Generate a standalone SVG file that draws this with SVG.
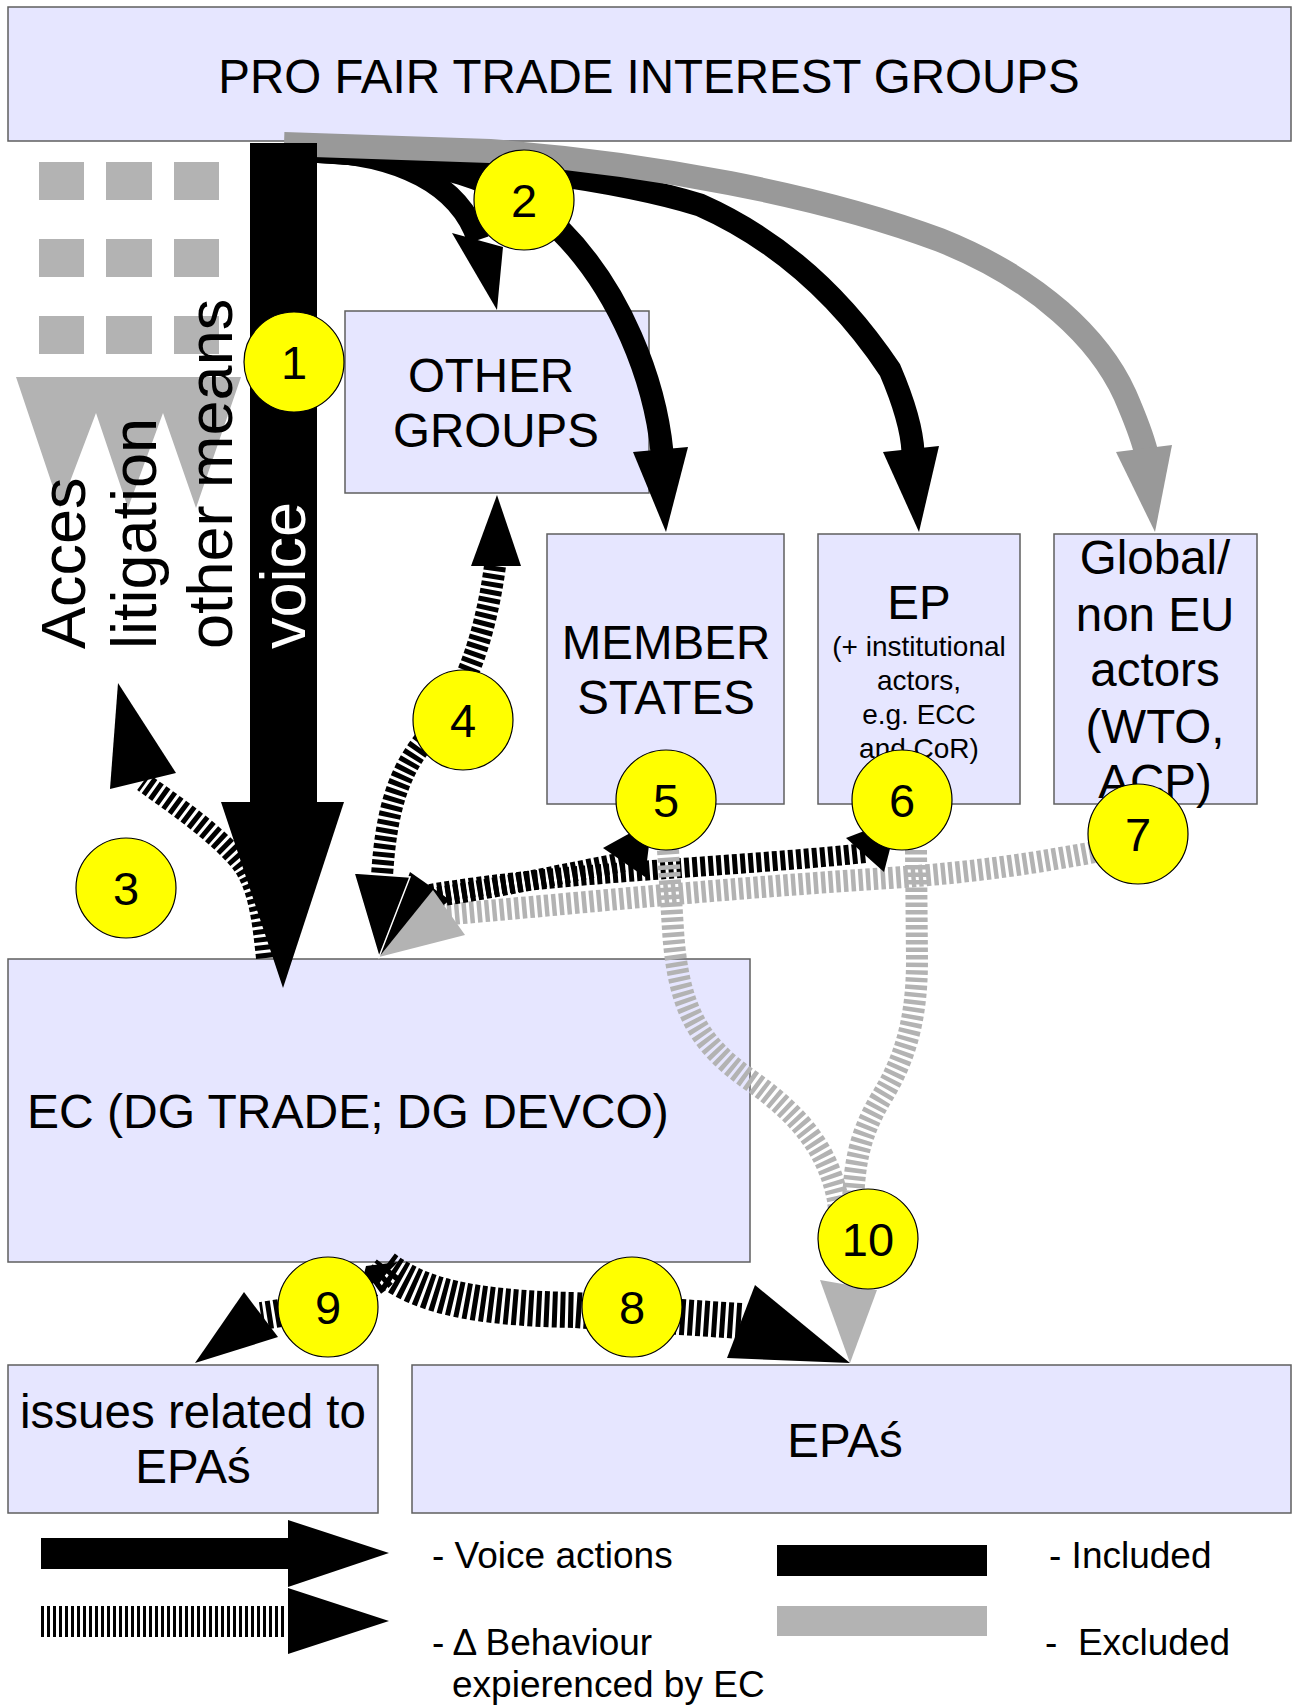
<svg xmlns="http://www.w3.org/2000/svg" width="1294" height="1705" viewBox="0 0 1294 1705">
<style>
.box{fill:#e6e6ff;stroke:#5f5f5f;stroke-width:1.5}
.t{font-family:"Liberation Sans",Arial,sans-serif;fill:#000}
.big{font-size:47.5px}
.sm{font-size:28px}
.leg{font-size:37px}
.rot{font-size:63px}
.num{font-family:"Liberation Sans",Arial,sans-serif;font-size:47px;text-anchor:middle}
.circ{fill:#ffff00;stroke:#000;stroke-width:1.2}
.sq{fill:#b3b3b3}
.blk{fill:none;stroke:#000}
.gry{fill:none;stroke:#999999}
.sb{fill:none;stroke:#000;stroke-dasharray:5 3}
.sg{fill:none;stroke:#b3b3b3;stroke-dasharray:4.5 3}
.hb{fill:#000}
.hg{fill:#999999}
.hl{fill:#b3b3b3}
</style>

<!-- nodes -->
<g id="pro-fair-trade">
  <rect class="box" x="8" y="7" width="1283" height="134"/>
  <text class="t big" x="649" y="93" text-anchor="middle">PRO FAIR TRADE INTEREST GROUPS</text>
</g>
<g id="other-groups">
  <rect class="box" x="345" y="311" width="304" height="182"/>
  <text class="t big" x="491" y="392" text-anchor="middle">OTHER</text>
  <text class="t big" x="496" y="447" text-anchor="middle">GROUPS</text>
</g>
<g id="member-states">
  <rect class="box" x="547" y="534" width="237" height="270"/>
  <text class="t big" x="666" y="659" text-anchor="middle">MEMBER</text>
  <text class="t big" x="666" y="714" text-anchor="middle">STATES</text>
</g>
<g id="ep">
  <rect class="box" x="818" y="534" width="202" height="270"/>
  <text class="t big" x="919" y="619" text-anchor="middle">EP</text>
  <text class="t sm" x="919" y="656" text-anchor="middle">(+ institutional</text>
  <text class="t sm" x="919" y="690" text-anchor="middle">actors,</text>
  <text class="t sm" x="919" y="724" text-anchor="middle">e.g. ECC</text>
  <text class="t sm" x="919" y="758" text-anchor="middle">and CoR)</text>
</g>
<g id="global">
  <rect class="box" x="1054" y="534" width="203" height="270"/>
  <text class="t big" x="1155" y="574" text-anchor="middle">Global/</text>
  <text class="t big" x="1155" y="631" text-anchor="middle">non EU</text>
  <text class="t big" x="1155" y="686" text-anchor="middle">actors</text>
  <text class="t big" x="1155" y="743" text-anchor="middle">(WTO,</text>
  <text class="t big" x="1155" y="798" text-anchor="middle">ACP)</text>
</g>
<g id="ec">
  <rect class="box" x="8" y="959" width="742" height="303"/>
  <text class="t" style="font-size:48px" x="27" y="1128">EC (DG TRADE; DG DEVCO)</text>
</g>
<g id="issues">
  <rect class="box" x="8" y="1365" width="370" height="148"/>
  <text class="t big" x="193" y="1428" text-anchor="middle">issues related to</text>
  <text class="t big" x="193" y="1483" text-anchor="middle">EPAś</text>
</g>
<g id="epas">
  <rect class="box" x="412" y="1365" width="879" height="148"/>
  <text class="t big" x="845" y="1457" text-anchor="middle">EPAś</text>
</g>

<!-- other means of access (squares and triangles) -->
<g id="other-means">
  <rect class="sq" x="39" y="162" width="45" height="38"/>
  <rect class="sq" x="106" y="162" width="46" height="38"/>
  <rect class="sq" x="174" y="162" width="45" height="38"/>
  <rect class="sq" x="39" y="239" width="45" height="38"/>
  <rect class="sq" x="106" y="239" width="46" height="38"/>
  <rect class="sq" x="174" y="239" width="45" height="38"/>
  <rect class="sq" x="39" y="316" width="45" height="38"/>
  <rect class="sq" x="106" y="316" width="46" height="38"/>
  <rect class="sq" x="174" y="316" width="45" height="38"/>
  <polygon class="sq" points="16,377 241,377 196,508 163,413 128,508 96,413 60,508"/>
  <text class="t rot" transform="translate(85,649) rotate(-90)">Acces</text>
  <text class="t rot" transform="translate(156,649) rotate(-90)">litigation</text>
  <text class="t rot" transform="translate(232,649) rotate(-90)">other means</text>
</g>

<!-- connectors -->
<g id="connectors">
  <!-- voice actions from pro fair trade groups -->
  <path class="blk" stroke-width="22" d="M310,151 C400,153 460,185 478,240"/>
  <path class="blk" stroke-width="23" d="M310,151 C430,156 510,180 560,230 C620,290 655,380 662,452"/>
  <path class="blk" stroke-width="23" d="M310,151 C480,161 620,180 700,205 C790,245 850,310 890,370 C905,405 912,430 913,452"/>
  <polygon class="hb" points="452,233 503,247 497,310"/>
  <polygon class="hb" points="633,452 688,447 666,532"/>
  <polygon class="hb" points="883,452 939,446 919,532"/>
  <path class="gry" stroke-width="24" d="M284,144 L490,151 C650,163 820,195 940,240 C1040,280 1100,340 1125,395 C1138,425 1143,440 1146,452"/>
  <polygon class="hg" points="1116,452 1172,445 1155,532"/>

  <!-- 3 -->
  <path class="sb" stroke-width="20" d="M266,958 C262,920 258,885 240,862 C215,832 175,805 143,782"/>
  <polygon class="hb" points="118,683 176,773 110,789"/>

  <!-- voice -->
  <rect x="250" y="143" width="67" height="660" fill="#000"/>
  <polygon class="hb" points="221,802 344,802 283,988"/>
  <text class="t rot" style="fill:#fff" transform="translate(305,649) rotate(-90)">voice</text>

  <!-- 4 -->
  <path class="sb" stroke-width="22" d="M495,566 C485,640 462,700 432,732 C398,768 386,812 382,876"/>
  <polygon class="hb" points="497,495 521,566 471,566"/>

  <!-- 5, 6, 7 -->
  <path class="sg" stroke-width="22" d="M440,915 C560,905 700,890 890,878 C980,872 1040,862 1095,852"/>
  <path class="sb" stroke-width="20" stroke-dasharray="4 3.5" d="M430,898 C500,888 570,872 624,862"/>
  <path class="sb" stroke-width="20" stroke-dasharray="4 3.5" d="M430,894 C560,872 720,868 866,853"/>
  <polygon class="hb" points="603,848 652,821 645,877"/>
  <polygon class="hb" points="846,838 898,818 884,872"/>
  <polygon class="hb" points="379,957 410,872 450,900"/>
  <polygon class="hl" points="379,957 433,890 465,935"/>
  <polygon class="hb" stroke="#fff" stroke-width="1.5" points="354,873 410,877 379,957"/>

  <!-- 10 -->
  <path class="sg" stroke-width="22" stroke-dasharray="4.5 3.5" d="M668,850 L673,930 C678,1010 700,1045 750,1080 C800,1115 828,1150 838,1200 L842,1240"/>
  <path class="sg" stroke-width="22" stroke-dasharray="4.5 3.5" d="M916,850 L917,960 C917,1020 905,1060 880,1100 C860,1135 855,1160 853,1200 L852,1240"/>

  <!-- 8, 9 -->
  <path class="sb" stroke-width="36" stroke-dasharray="4 2.5" d="M384,1268 C420,1295 470,1308 574,1310 L741,1321"/>
  <path class="sb" stroke-width="28" stroke-dasharray="4 2.5" d="M388,1268 C370,1292 330,1306 261,1316"/>
  <polygon class="hb" points="398,1262 366,1266 360,1290 380,1280"/>
  <polygon class="hb" points="755,1285 850,1363 727,1358"/>
  <polygon class="hl" points="820,1280 877,1290 850,1363"/>
  <polygon class="hb" points="244,1292 278,1337 195,1363"/>
</g>

<!-- number labels -->
<g id="labels">
  <g id="n1"><circle class="circ" cx="294" cy="362" r="50"/><text class="num" x="294" y="379">1</text></g>
  <g id="n2"><circle class="circ" cx="524" cy="200" r="50"/><text class="num" x="524" y="217">2</text></g>
  <g id="n3"><circle class="circ" cx="126" cy="888" r="50"/><text class="num" x="126" y="905">3</text></g>
  <g id="n4"><circle class="circ" cx="463" cy="720" r="50"/><text class="num" x="463" y="737">4</text></g>
  <g id="n5"><circle class="circ" cx="666" cy="800" r="50"/><text class="num" x="666" y="817">5</text></g>
  <g id="n6"><circle class="circ" cx="902" cy="800" r="50"/><text class="num" x="902" y="817">6</text></g>
  <g id="n7"><circle class="circ" cx="1138" cy="834" r="50"/><text class="num" x="1138" y="851">7</text></g>
  <g id="n8"><circle class="circ" cx="632" cy="1307" r="50"/><text class="num" x="632" y="1324">8</text></g>
  <g id="n9"><circle class="circ" cx="328" cy="1307" r="50"/><text class="num" x="328" y="1324">9</text></g>
  <g id="n10"><circle class="circ" cx="868" cy="1239" r="50"/><text class="num" x="868" y="1256">10</text></g>
</g>

<!-- legend -->
<g id="legend">
  <rect x="41" y="1538" width="248" height="31" fill="#000"/>
  <polygon class="hb" points="288,1520 389,1553 288,1587"/>
  <line x1="41" y1="1621.5" x2="286" y2="1621.5" stroke="#000" stroke-width="31" stroke-dasharray="3 3"/>
  <polygon class="hb" points="288,1588 389,1621 288,1654"/>
  <text class="t leg" x="432" y="1568">- Voice actions</text>
  <text class="t leg" x="432" y="1655">- Δ Behaviour</text>
  <text class="t leg" x="452" y="1697">expierenced by EC</text>
  <rect x="777" y="1545" width="210" height="31" fill="#000"/>
  <rect x="777" y="1606" width="210" height="30" fill="#b3b3b3"/>
  <text class="t leg" x="1049" y="1568">- Included</text>
  <text class="t leg" x="1045" y="1655" xml:space="preserve" style="white-space:pre">-  Excluded</text>
</g>
</svg>
